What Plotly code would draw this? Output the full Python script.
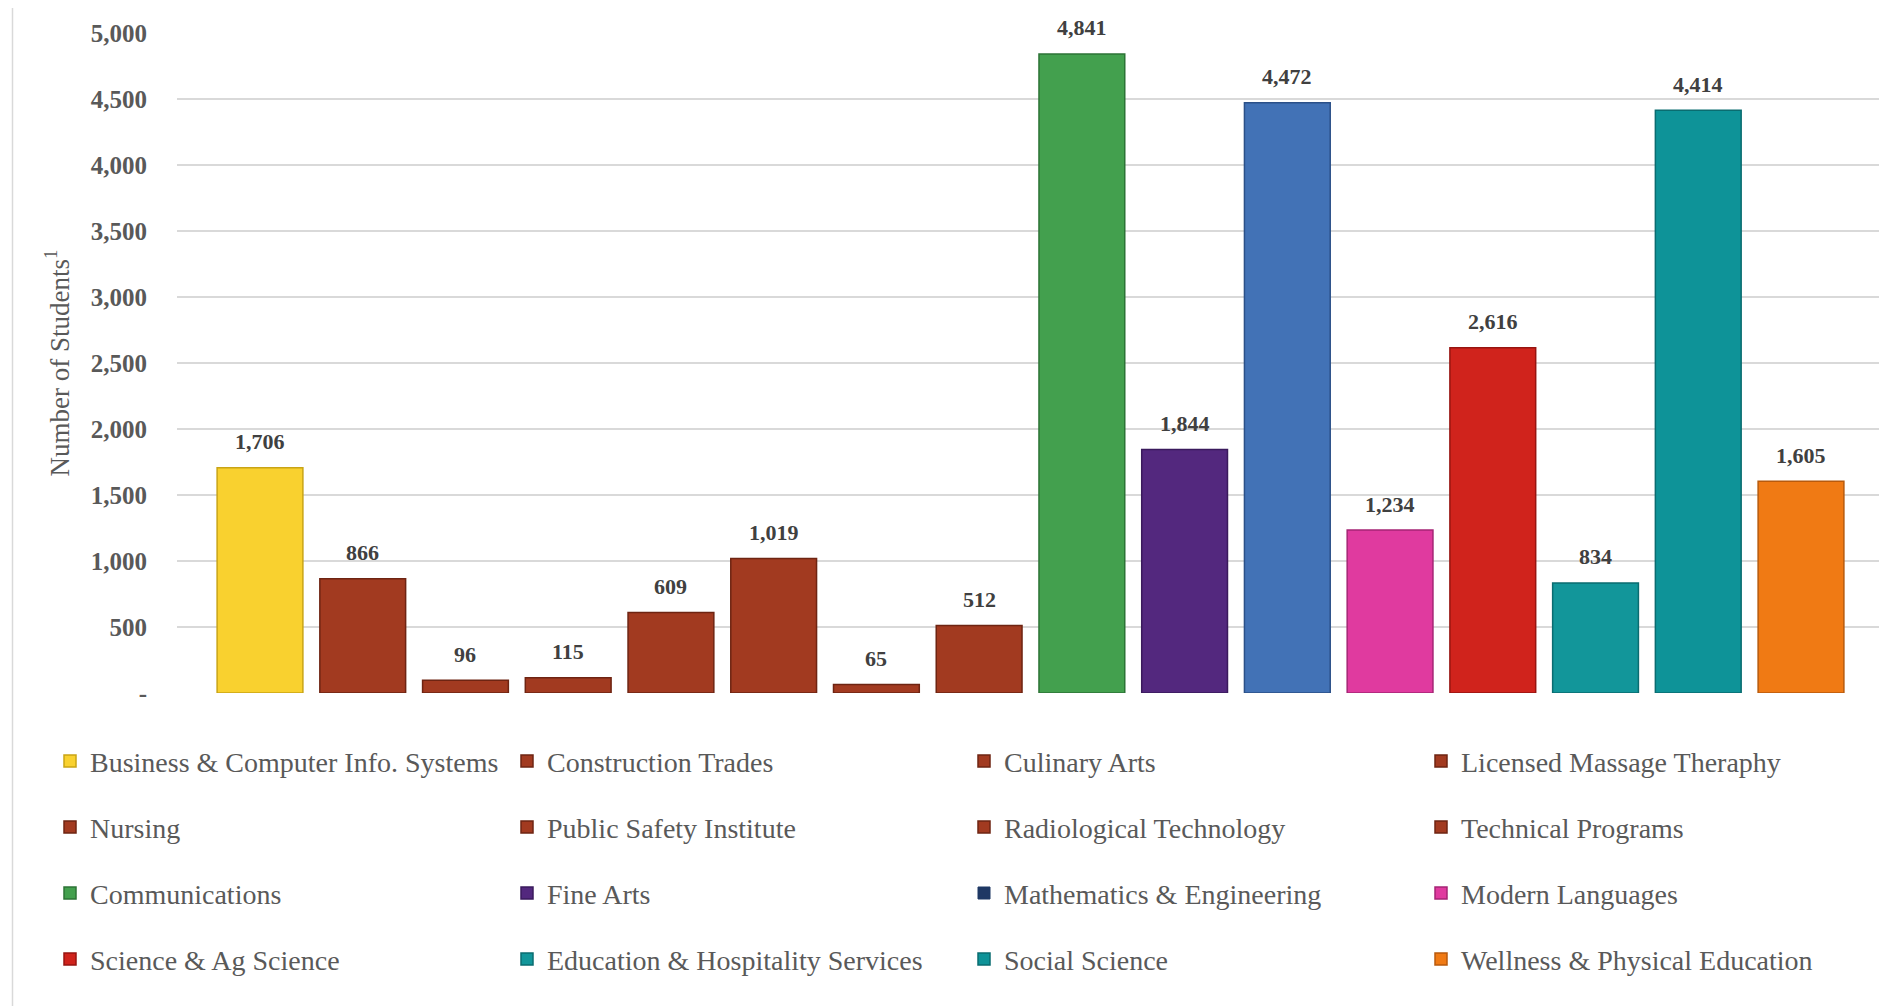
import plotly.graph_objects as go

categories = [
    "Business & Computer Info. Systems", "Construction Trades", "Culinary Arts",
    "Licensed Massage Theraphy", "Nursing", "Public Safety Institute",
    "Radiological Technology", "Technical Programs", "Communications", "Fine Arts",
    "Mathematics & Engineering", "Modern Languages", "Science & Ag Science",
    "Education & Hospitality Services", "Social Science", "Wellness & Physical Education",
]
values = [1706, 866, 96, 115, 609, 1019, 65, 512, 4841, 1844, 4472, 1234, 2616, 834, 4414, 1605]
bar_colors = [
    "#F9D12F", "#A23A20", "#A23A20", "#A23A20", "#A23A20", "#A23A20", "#A23A20", "#A23A20",
    "#43A04E", "#53287E", "#4272B6", "#E03A9F", "#D0231C", "#12969A", "#0E9398", "#F07A14",
]
edge_colors = [
    "#C9A415", "#6E2412", "#6E2412", "#6E2412", "#6E2412", "#6E2412", "#6E2412", "#6E2412",
    "#2C7336", "#3A1A5C", "#2B5088", "#A52575", "#971410", "#0A6C70", "#0A6C70", "#B85A0C",
]
legend_colors = list(bar_colors)
legend_colors[10] = "#1F3864"  # legend swatch differs from bar in reference

y_ticks = [0, 500, 1000, 1500, 2000, 2500, 3000, 3500, 4000, 4500, 5000]
y_ticktext = ["-", "500", "1,000", "1,500", "2,000", "2,500", "3,000", "3,500", "4,000", "4,500", "5,000"]

W, H = 1887, 1006
PAGE_OFF = 8  # default body margin of the html page

# target plot area in page pixels
P_LEFT, P_RIGHT, P_TOP, P_BOTTOM = 177, 1885, 32.7, 692.7
L = P_LEFT - PAGE_OFF
R = W - (P_RIGHT - PAGE_OFF)
T = P_TOP - PAGE_OFF
B = H - (P_BOTTOM - PAGE_OFF)
pw, ph = W - L - R, H - T - B

def px_x(X):  # page pixel -> paper
    return (X - P_LEFT) / pw

def px_y(Y):
    return (P_BOTTOM - Y) / ph

FONT = "Liberation Serif"

fig = go.Figure()
legend_layouts = {}
for i, (cat, v) in enumerate(zip(categories, values)):
    lname = "legend" if i == 0 else f"legend{i+1}"
    same = legend_colors[i] == bar_colors[i]
    fig.add_trace(go.Bar(
        x=[i], y=[v], name=cat, width=0.835,
        marker=dict(color=bar_colors[i], line=dict(color=edge_colors[i], width=1.5)),
        legend=lname, showlegend=same,
    ))
    if not same:
        fig.add_trace(go.Bar(
            x=[None], y=[None], name=cat,
            marker=dict(color=legend_colors[i], line=dict(color=legend_colors[i], width=1)),
            legend=lname, showlegend=True,
        ))
    r, c = divmod(i, 4)
    lx = 50 + c * 457
    ly = 761 + r * 66
    legend_layouts[lname] = dict(
        x=px_x(lx), y=px_y(ly), xanchor="left", yanchor="middle",
        orientation="h", bgcolor="rgba(0,0,0,0)",
        font=dict(family=FONT, size=28, color="#595959"),
        itemclick=False, itemdoubleclick=False,
    )

annotations = []
for i, v in enumerate(values):
    annotations.append(dict(
        x=i, y=v, xref="x", yref="y", text=f"{v:,}", showarrow=False,
        yanchor="middle", yshift=26,
        font=dict(family=FONT, size=22, color="#404040", weight="bold"),
    ))

shapes = [
    dict(type="line", xref="paper", yref="paper", x0=px_x(12.5), x1=px_x(12.5),
         y0=px_y(0), y1=px_y(H + 10), line=dict(color="#D9D9D9", width=1.5)),
]

x_lo = -(260 - P_LEFT) / 102.73
x_hi = 15 + (P_RIGHT - 1801) / 102.73

fig.update_layout(
    width=W, height=H,
    margin=dict(l=L, r=R, t=T, b=B, autoexpand=False),
    paper_bgcolor="white", plot_bgcolor="white",
    barmode="overlay",
    showlegend=True,
    xaxis=dict(range=[x_lo, x_hi], showticklabels=False, showgrid=False, zeroline=False,
               showline=False, fixedrange=True),
    yaxis=dict(range=[0, 5000], tickvals=y_ticks, ticktext=y_ticktext,
               showgrid=True, gridcolor="#D9D9D9", gridwidth=1.5, zeroline=False,
               showline=False, ticks="", ticklabelstandoff=29,
               tickfont=dict(family=FONT, size=25, color="#595959", weight="bold"),
               title=dict(text="Number of Students<sup>1</sup>", standoff=13,
                          font=dict(family=FONT, size=27, color="#595959"))),
    annotations=annotations,
    shapes=shapes,
    **legend_layouts,
)

fig.write_html("out.html")
